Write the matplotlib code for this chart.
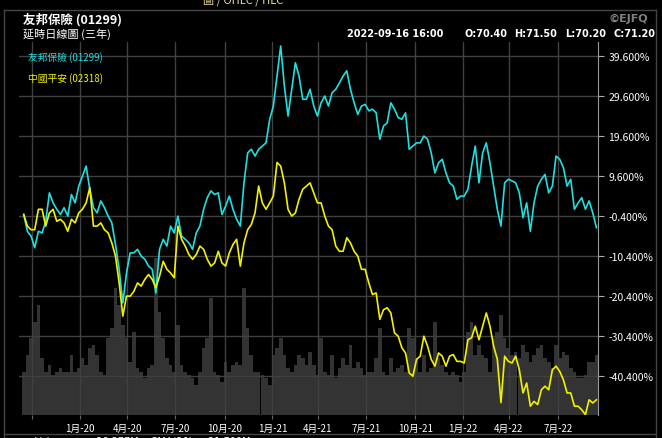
import matplotlib.pyplot as plt
import matplotlib.dates as mdates
import numpy as np
import pandas as pd
from matplotlib.lines import Line2D

plt.rcParams['font.family'] = ['Noto Sans CJK TC', 'DejaVu Sans']

# weekly readings, % change since 2019-09-16
aia = [0.0, -4.2, -5.4, -8.3, -4.2, -4.6, -1.7, 5.4, 2.9, 1.3, 0.0, 1.7, -0.4, 5.0, 2.9, 7.1, 9.6, 12.1, 6.3, 1.7, 0.4, 3.4, 1.7, -0.4, -2.1, -7.5,
       -13.7, -22.1, -14.6, -9.6, -9.6, -8.7, -10.4, -11.2, -12.9, -13.7, -19.6, -8.7, -6.2, -7.9, -2.9, -4.6, -0.4, -5.4, -6.2, -7.1, -8.7, -4.6, -2.9, 1.3, 4.2, 5.9,
       5.0, 5.4, 0.0, 2.1, 4.6, 1.3, -1.2, -2.9, 7.9, 15.4, 16.3, 14.6, 16.3, 17.1, 17.9, 23.8, 27.1, 34.6, 42.1, 32.1, 24.6, 31.3, 37.9, 34.6, 28.8, 28.8, 31.3,
       27.1, 24.6, 27.9, 29.6, 27.1, 30.4, 31.3, 32.9, 34.6, 35.9, 31.3, 27.9, 25.0, 27.1, 27.5, 25.9, 26.3, 25.4, 18.8, 22.1, 22.9, 27.9, 26.3, 24.2, 23.8, 25.4,
       16.3, 17.1, 17.9, 17.9, 19.6, 18.8, 15.4, 10.4, 12.9, 13.8, 10.4, 7.9, 7.1, 3.8, 4.6, 4.6, 6.3, 12.1, 17.1, 7.9, 15.4, 17.9, 12.9, 7.1, 1.3, -2.9, 7.9,
       8.8, 8.4, 7.9, 5.4, -0.8, 2.9, -4.2, 2.9, 7.1, 8.8, 10.0, 5.4, 7.1, 14.6, 13.8, 11.7, 7.1, 8.8, 1.3, 2.9, 4.2, 1.3, 3.4, 0.4, -3.3]

pingan = [0.0, -2.9, -3.8, -3.8, 1.3, 1.3, -2.9, 0.4, 1.3, -1.7, -1.2, -2.1, -4.2, -1.2, -2.1, 0.4, 1.3, 2.9, 6.7, -2.9, -2.9, -2.1, -3.8, -4.6, -7.1, -10.4,
          -17.1, -25.4, -20.4, -20.4, -19.2, -17.1, -17.9, -16.2, -15.0, -16.2, -18.3, -15.4, -11.7, -13.7, -14.6, -15.8, -2.9, -6.2, -7.9, -10.0, -11.2, -10.0, -7.9, -8.7, -11.2, -12.9,
          -12.1, -9.2, -12.1, -12.9, -9.6, -7.5, -6.2, -12.9, -7.1, -3.8, -2.5, 0.4, 7.1, 2.9, 1.3, 2.9, 4.6, 13.0, 12.1, 7.9, 1.3, -0.4, 0.4, 3.8, 6.3, 7.1, 7.9,
          5.4, 2.9, 2.9, -0.4, -2.9, -3.8, -7.9, -9.2, -9.2, -5.8, -7.1, -9.2, -10.4, -13.7, -13.7, -17.1, -20.0, -19.6, -26.2, -23.8, -23.3, -24.6, -29.6, -30.4, -33.3, -34.6,
          -39.6, -40.4, -36.2, -35.4, -30.4, -32.9, -36.2, -37.9, -34.6, -35.4, -37.9, -35.4, -35.0, -36.7, -36.7, -37.1, -31.3, -30.8, -27.9, -31.3, -27.9, -24.6, -27.9, -32.9, -36.2, -47.0, -35.4,
          -36.7, -37.1, -35.4, -38.8, -44.6, -42.1, -47.9, -46.7, -47.5, -43.8, -42.9, -43.8, -38.8, -37.9, -39.2, -41.3, -44.6, -44.6, -47.9, -47.9, -48.8, -50.0, -46.3, -47.1, -46.3]

# volume (M shares)
volume = [26, 36, 46, 56, 66, 34, 26, 30, 24, 26, 28, 26, 26, 36, 26, 28, 34, 30, 40, 42, 36, 26, 24, 46, 52, 76,
          66, 54, 46, 32, 50, 28, 26, 22, 28, 30, 94, 62, 46, 34, 30, 26, 54, 30, 26, 24, 22, 18, 26, 40, 46, 70,
          26, 24, 20, 32, 26, 30, 32, 30, 76, 52, 36, 26, 26, 24, 22, 18, 36, 40, 46, 36, 28, 26, 30, 36, 34, 30, 38,
          30, 24, 46, 26, 24, 36, 22, 28, 34, 30, 42, 28, 32, 28, 24, 26, 26, 34, 52, 26, 24, 34, 26, 28, 30, 26,
          52, 46, 34, 26, 36, 26, 28, 56, 34, 30, 26, 24, 26, 24, 20, 26, 50, 56, 36, 42, 36, 34, 26, 46, 50, 60, 46,
          40, 36, 38, 34, 42, 38, 32, 36, 40, 42, 34, 32, 28, 42, 34, 38, 36, 28, 26, 22, 22, 24, 32, 32, 36]

dates = pd.date_range('2019-09-16', '2022-09-16', periods=len(aia))

tick_dates = ['2019-10-02', '2020-01-02', '2020-04-01', '2020-07-02', '2020-10-05', '2021-01-04',
              '2021-04-01', '2021-07-02', '2021-10-04', '2022-01-03', '2022-04-01', '2022-07-04']
tick_labels = ['', '1月-20', '4月-20', '7月-20', '10月-20', '1月-21', '4月-21', '7月-21',
               '10月-21', '1月-22', '4月-22', '7月-22']
y_ticks = [39.6, 29.6, 19.6, 9.6, -0.4, -10.4, -20.4, -30.4, -40.4]

W, H = 662, 439
fig = plt.figure(figsize=(W / 100, H / 100), dpi=100, facecolor='black')

def fx(x):
    return x / W

def fy(y):
    return 1 - y / H

rect = [fx(19), fy(416), 579 / W, 373 / H]
xmin = pd.Timestamp('2019-09-07')
xmax = pd.Timestamp('2022-09-19')

# volume underneath
axv = fig.add_axes(rect, facecolor='#141414')
axv.bar(dates, volume, width=7, color='#333333', linewidth=0)
axv.set_ylim(0, 224)
axv.set_xlim(xmin, xmax)
axv.axis('off')
axv.patch.set_visible(True)

ax = fig.add_axes(rect, facecolor='none')
ax.plot(dates, aia, color='#1ee0e0', lw=1.2)
ax.plot(dates, pingan, color='#f2f200', lw=1.2)
ax.set_xlim(xmin, xmax)
ax.set_ylim(-50.1, 43.1)

ax.set_xticks(pd.to_datetime(tick_dates))
ax.set_xticklabels(tick_labels)
ax.set_yticks(y_ticks)
ax.set_yticklabels([f'{v:.3f}%' for v in y_ticks])
ax.yaxis.tick_right()
ax.grid(True, color='#404040', lw=1)
for s in ['top', 'left', 'bottom']:
    ax.spines[s].set_visible(False)
ax.spines['right'].set_color('#999999')
ax.tick_params(axis='x', colors='#666666', labelcolor='white', labelsize=7, length=3, pad=2.5)
ax.tick_params(axis='y', colors='#aaaaaa', labelcolor='white', labelsize=7.5, length=4, pad=3.5)

# legend inside plot
ax.text(fx(28), fy(58), '友邦保險 (01299)', transform=fig.transFigure, color='#1ee0e0',
        fontsize=7, va='center', ha='left')
ax.text(fx(28), fy(79), '中國平安 (02318)', transform=fig.transFigure, color='#f2f200',
        fontsize=7, va='center', ha='left')

# frame lines
fig.add_artist(Line2D([fx(4), fx(656)], [fy(11), fy(11)], color='#444444', lw=1))
fig.add_artist(Line2D([fx(4), fx(4)], [fy(11), 0], color='#444444', lw=1))
fig.add_artist(Line2D([fx(656), fx(656)], [fy(11), 0], color='#444444', lw=1))
fig.add_artist(Line2D([fx(4), fx(656)], [fy(435), fy(435)], color='#444444', lw=1))

# header texts
fig.text(fx(23), fy(20), '友邦保險 (01299)', color='white', fontsize=9, fontweight='bold', va='center')
fig.text(fx(23), fy(34), '延時日線圖 (三年)', color='white', fontsize=8, va='center')
fig.text(fx(203), fy(3), '圖 / OHLC / HLC', color='#e8e0a0', fontsize=8, va='baseline')
fig.text(fx(648), fy(19), '©EJFQ', color='#808080', fontsize=8, fontweight='bold', va='center', ha='right',
         family='DejaVu Sans')
for x0, txt in [(347, '2022-09-16 16:00'), (464, 'O:70.40'), (514, 'H:71.50'), (565, 'L:70.20'), (614, 'C:71.20')]:
    fig.text(fx(x0), fy(34), txt, color='white', fontsize=7, fontweight='bold', va='center', ha='left',
             family='DejaVu Sans')
fig.text(fx(35), fy(437), 'Volume        20.377M    SMA(20)     21.709M', color='white', fontsize=7,
         va='top', family='DejaVu Sans')

fig.savefig('out.png', dpi=100, facecolor='black')
